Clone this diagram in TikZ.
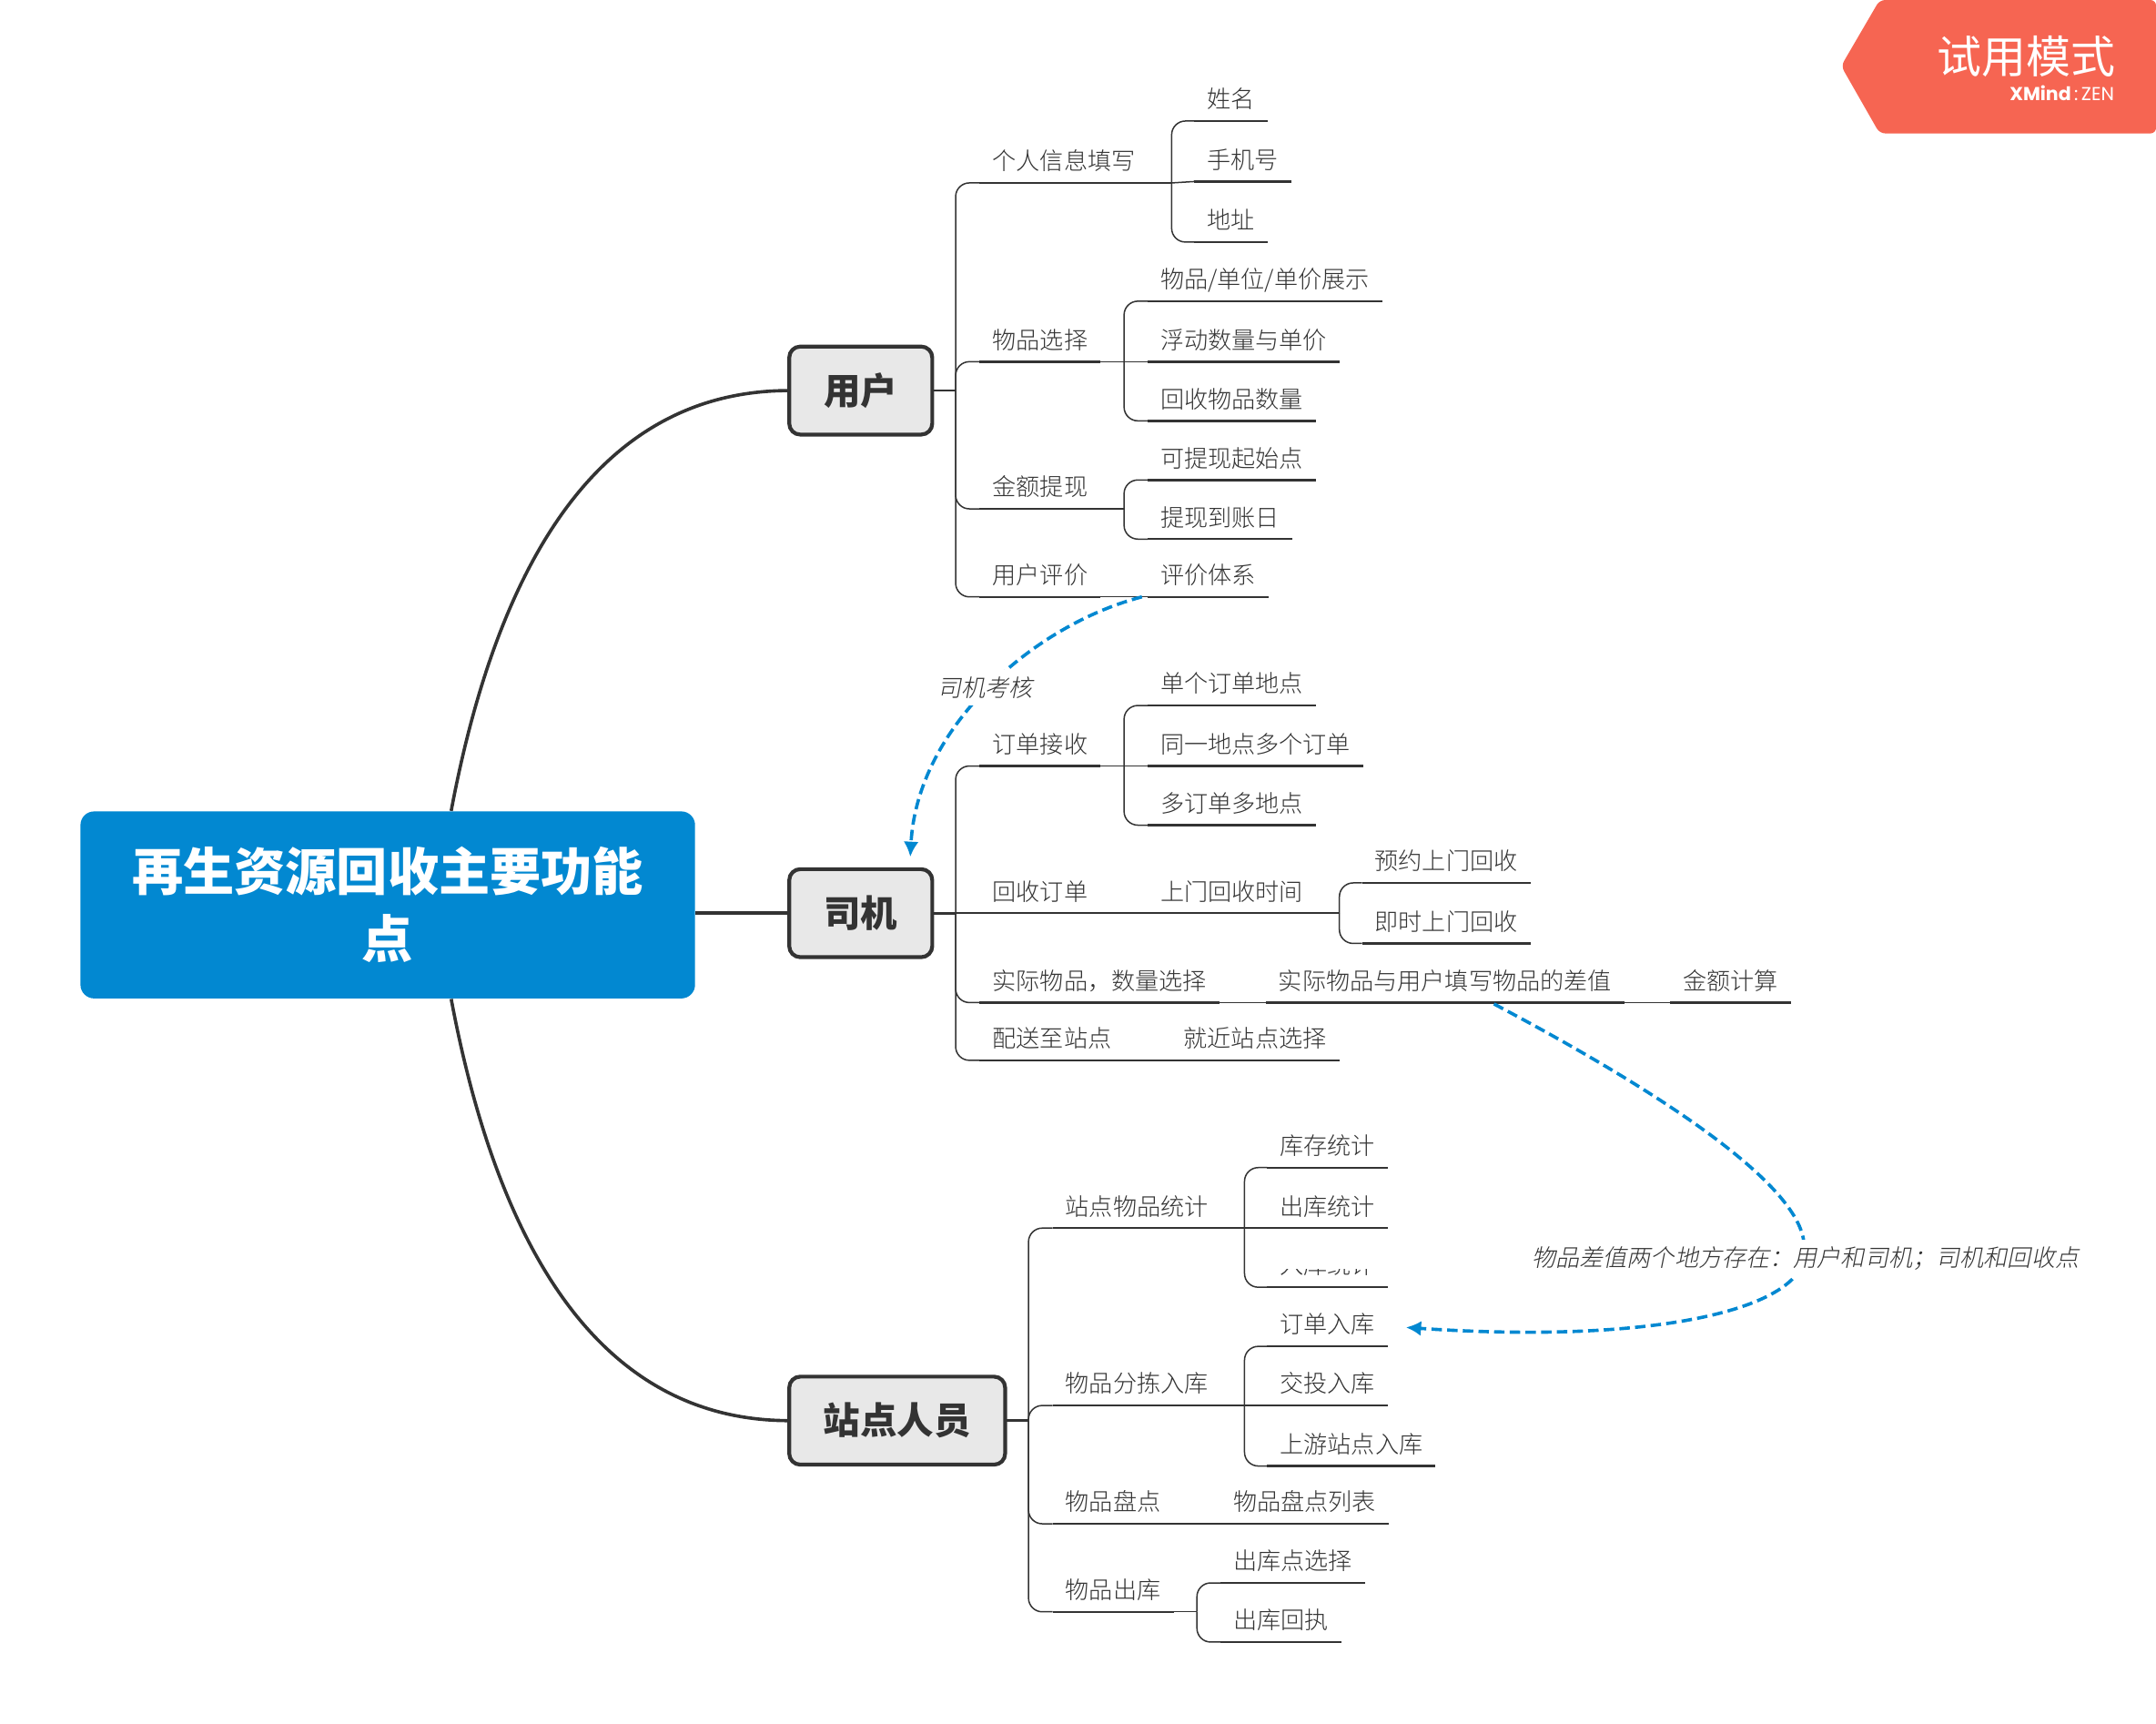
\documentclass[tikz,border=0pt]{standalone}
\usepackage{fontspec}
\usetikzlibrary{arrows.meta,calc}
\setmainfont{Noto Sans CJK SC Light}[BoldFont={Noto Sans CJK SC Black}]
\newfontfamily\slantfont[FakeSlant=0.2]{Noto Sans CJK SC Light}
\newfontfamily\badgefont{Poppins}
\newfontfamily\trialfont{Noto Sans CJK SC}
\definecolor{darkline}{HTML}{333333}
\definecolor{rootblue}{HTML}{0288D1}
\definecolor{badgered}{HTML}{F66552}
\newcommand{\branch}[2]{%
    \draw[stub] (#1.south east) -- ++(17,0) coordinate (#1v);
    \foreach \kid in {#2} \draw[link] (#1v) |- (\kid.south west);}
\newcommand{\trunk}[2]{%
    \draw[mainstub] (#1.east) -- ++(17,0) coordinate (#1v);
    \foreach \kid in {#2} \draw[link] (#1v) |- (\kid.south west);}
\begin{document}
\begin{tikzpicture}[x=0.5pt,y=-0.5pt,
        item/.style={anchor=south west,inner xsep=4.5pt,inner ysep=3pt,
            text height=7.5pt,text depth=1.5pt,text=darkline,
            font=\fontsize{8.65}{10}\selectfont},
        uline/.style={draw=darkline,line width=0.8pt},
        link/.style={draw=darkline,line width=0.5pt,rounded corners=5pt},
        stub/.style={draw=darkline,line width=0.5pt},
        mainstub/.style={draw=darkline,line width=0.9pt},
        topic/.style={draw=darkline,fill=black!9,line width=1.4pt,rounded corners=4pt,outer sep=0pt,
            minimum height=32pt,text=darkline,font=\fontsize{13.4}{15}\selectfont\bfseries},
        curve/.style={draw=darkline,line width=1.2pt},
        relation/.style={draw=rootblue,line width=1.2pt,dash pattern=on 3.8pt off 1.9pt,
            -{Latex[length=5.5pt,width=5.5pt]},shorten >=4.5pt},
        note/.style={fill=white,inner xsep=1pt,inner ysep=2.5pt,text=darkline,
            font=\fontsize{8.65}{10}\selectfont\slantfont}]
\useasboundingbox (0,0) rectangle (1568,1253);

% badge
\fill[badgered,rounded corners=2pt] (1367,0) -- (1568,0) -- (1568,97) -- (1367,97) -- (1339,48) -- cycle;
\node[text=white,anchor=east,inner sep=0pt,font=\fontsize{16.2}{18}\selectfont\trialfont] (trial) at (1539,41) {试用模式};
\node[text=white,anchor=east,inner sep=0pt,font=\fontsize{6.8}{7}\selectfont\badgefont] (brand) at (1538,68) {\textbf{XMind}\,:\,ZEN};

% central topic
\node[fill=rootblue,rounded corners=5pt,minimum width=223.5pt,minimum height=68pt,align=center,
    text=white,font=\fontsize{18.6}{24.5}\selectfont\bfseries] (root) at (282,658) {再生资源回收主要功能\\点};
\node[topic,minimum width=52pt] (yh) at (626,284) {用户};
\node[topic,minimum width=52pt] (sjn) at (626,664) {司机};
\node[topic,minimum width=78.5pt] (zd) at (652.5,1033) {站点人员};

\draw[curve] (root.56) .. controls (360,420) and (430,284) .. (yh.west);
\draw[curve] (sjn.west -| root.east) -- (sjn.west);
\draw[curve] (root.304) .. controls (360,896) and (430,1033) .. (zd.west);

% labelled lines
\foreach \nm/\x/\y/\txt in {
    gr/712.5/133/个人信息填写, xm/868.5/88/姓名, shj/868.5/132/手机号, dz/868.5/176/地址,
    wp/712.5/263/物品选择, wpa/834.5/219/{物品/单位/单价展示}, wpb/834.5/263/浮动数量与单价, wpc/834.5/306/回收物品数量,
    je/712.5/370/金额提现, jea/834.5/349/可提现起始点, jeb/834.5/392/提现到账日,
    pj/712.5/434/用户评价, pja/834.5/434/评价体系,
    dd/712.5/557/订单接收, dda/834.5/513/单个订单地点, ddb/834.5/557/同一地点多个订单, ddc/834.5/600/多订单多地点,
    hs/712.5/664/回收订单, hsa/834.5/664/上门回收时间, hsb/990.5/642/预约上门回收, hsc/990.5/686/即时上门回收,
    sw/712.5/729/实际物品，数量选择, swa/920.5/729/实际物品与用户填写物品的差值, swb/1214.5/729/金额计算,
    ps/712.5/771/配送至站点, psa/851.5/771/就近站点选择,
    tj/765.5/893/站点物品统计, tja/921.5/849/库存统计, tjb/921.5/893/出库统计,
    fj/765.5/1022/物品分拣入库, fja/921.5/979/订单入库, fjb/921.5/1022/交投入库, fjc/921.5/1066/上游站点入库,
    pd/765.5/1108/物品盘点, pda/887.5/1108/物品盘点列表,
    ck/765.5/1172/物品出库, cka/887.5/1151/出库点选择, ckb/887.5/1194/出库回执}
{
    \node[item] (\nm) at (\x,\y) {\txt};
    \draw[uline] (\nm.south west) -- (\nm.south east);
}
% only the foot of this text shows
\begin{scope}
    \clip (921,923) rectangle (1020,940);
    \node[item] (tjc) at (921.5,936) {入库统计};
\end{scope}
\draw[uline] (tjc.south west) -- (tjc.south east);

\trunk{yh}{gr,wp,je,pj}
\branch{gr}{xm,dz}
\draw[stub] (grv) -- (shj.south west);
\branch{wp}{wpa,wpc}
\draw[stub] (wpv) -- (wpb.south west);
\branch{je}{jea,jeb}
\draw[stub] (pj.south east) -- (pja.south west);
\trunk{sjn}{dd,sw,ps}
\draw[stub] (sjnv) -- (hs.south west);
\branch{dd}{dda,ddc}
\draw[stub] (ddv) -- (ddb.south west);
\draw[stub] (hs.south east) -- (hsa.south west);
\branch{hsa}{hsb,hsc}
\draw[stub] (sw.south east) -- (swa.south west);
\draw[stub] (swa.south east) -- (swb.south west);
\draw[stub] (ps.south east) -- (psa.south west);
\trunk{zd}{tj,fj,pd,ck}
\branch{tj}{tja,tjc}
\draw[stub] (tjv) -- (tjb.south west);
\branch{fj}{fja,fjc}
\draw[stub] (fjv) -- (fjb.south west);
\draw[stub] (pd.south east) -- (pda.south west);
\branch{ck}{cka,ckb}

% relations
\draw[relation] ($(pja.south west)+(-4,0)$) .. controls (750,455) and (667,530) .. (sjn.42);
\node[note] (kh) at (716.5,500) {司机考核};
\draw[relation] ($(swa.south west)+(166,1)$) .. controls (1200,790) and (1310,860) .. (1312,905)
    .. controls (1322,950) and (1210,978) .. ($(fja.east)+(4,1)$);
\node[note] (cz) at (1313,915) {物品差值两个地方存在：用户和司机；司机和回收点};
\end{tikzpicture}
\end{document}
